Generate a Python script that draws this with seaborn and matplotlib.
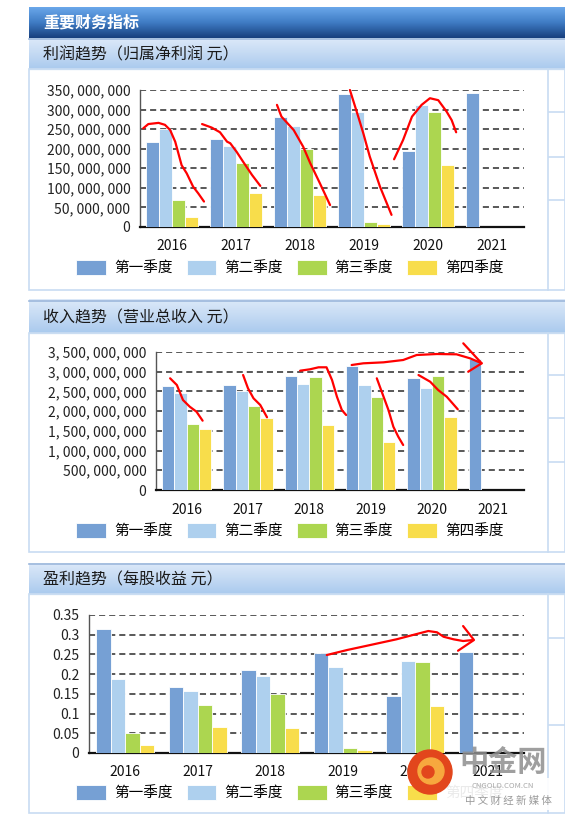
import numpy as np
import pandas as pd
import matplotlib
matplotlib.use('Agg')
import matplotlib.pyplot as plt
import seaborn as sns
from matplotlib.colors import LinearSegmentedColormap
from matplotlib.ticker import FuncFormatter, MultipleLocator
from matplotlib.patches import Rectangle, Circle

# ---- data ----
years = ['2016', '2017', '2018', '2019', '2020', '2021']
quarters = ['第一季度', '第二季度', '第三季度', '第四季度']
q_colors = ['#76A0D4', '#AED0EE', '#ACD650', '#F8DD4B']

# 归属净利润 (元)
profit_q1 = [217.6e6, 224e6, 281.6e6, 340e6, 193.7e6, 342e6]
profit_q2 = [250.9e6, 207e6, 259e6, 293.5e6, 312e6, np.nan]
profit_q3 = [69e6, 164e6, 200e6, 13e6, 293.5e6, np.nan]
profit_q4 = [26.5e6, 87e6, 83e6, 8.5e6, 158.7e6, np.nan]

# 营业总收入 (元)
revenue_q1 = [2.644e9, 2.661e9, 2.89e9, 3.153e9, 2.831e9, 3.322e9]
revenue_q2 = [2.449e9, 2.508e9, 2.686e9, 2.653e9, 2.585e9, np.nan]
revenue_q3 = [1.686e9, 2.119e9, 2.873e9, 2.364e9, 2.881e9, np.nan]
revenue_q4 = [1.542e9, 1.814e9, 1.653e9, 1.22e9, 1.839e9, np.nan]

# 每股收益 (元)
eps_q1 = [0.3155, 0.1667, 0.2107, 0.2546, 0.1447, 0.256]
eps_q2 = [0.187, 0.1565, 0.1946, 0.219, 0.234, np.nan]
eps_q3 = [0.0516, 0.121, 0.1506, 0.012, 0.230, np.nan]
eps_q4 = [0.021, 0.066, 0.0635, 0.0085, 0.120, np.nan]

# red hand-drawn marks on the reference (x in year slots, y in data units)
profit_marks = [
    ([-0.45, -0.37, -0.21, -0.11, -0.03, 0.05, 0.15, 0.23, 0.33, 0.41, 0.5],
     [252e6, 263e6, 266e6, 261e6, 248e6, 218e6, 158e6, 137e6, 103e6, 86e6, 65e6]),
    ([0.47, 0.62, 0.75, 0.86, 0.91, 1.01, 1.11, 1.25, 1.38],
     [263e6, 254e6, 242e6, 218e6, 214e6, 192e6, 167e6, 133e6, 105e6]),
    ([1.64, 1.71, 1.90, 2.05, 2.16, 2.31, 2.47],
     [312e6, 282e6, 248e6, 205e6, 163e6, 112e6, 56e6]),
    ([2.78, 2.91, 2.99, 3.09, 3.25, 3.43],
     [350e6, 282e6, 239e6, 180e6, 103e6, 31e6]),
    ([3.47, 3.61, 3.75, 3.90, 4.03, 4.16, 4.29, 4.37, 4.44],
     [173e6, 222e6, 282e6, 312e6, 329e6, 324e6, 295e6, 273e6, 242e6]),
]
revenue_marks = [
    ([-0.27, -0.16, -0.06, 0.05, 0.16, 0.26],
     [2.833e9, 2.663e9, 2.282e9, 2.113e9, 1.986e9, 1.758e9]),
    ([0.92, 1.0, 1.09, 1.2, 1.31],
     [2.916e9, 2.579e9, 2.325e9, 2.156e9, 1.844e9]),
    ([1.85, 2.01, 2.15, 2.28, 2.37, 2.45, 2.53, 2.6],
     [3.026e9, 3.061e9, 3.112e9, 3.112e9, 2.79e9, 2.366e9, 2.029e9, 1.902e9]),
    ([2.69, 2.88, 3.21, 3.53, 3.75, 4.08, 4.4, 4.62, 4.81],
     [3.17e9, 3.213e9, 3.238e9, 3.297e9, 3.424e9, 3.449e9, 3.441e9, 3.34e9, 3.213e9]),
    ([4.51, 4.81, 4.59], [3.72e9, 3.213e9, 3.0e9]),
    ([3.1, 3.21, 3.29, 3.37, 3.45, 3.53],
     [2.833e9, 2.366e9, 2.029e9, 1.605e9, 1.352e9, 1.141e9]),
    ([3.78, 3.97, 4.1, 4.24, 4.42],
     [2.916e9, 2.747e9, 2.536e9, 2.366e9, 2.047e9]),
]
eps_marks = [
    ([2.78, 3.06, 3.38, 3.74, 4.02, 4.18, 4.30, 4.39, 4.53, 4.66, 4.80],
     [0.2485, 0.2612, 0.2739, 0.2883, 0.3018, 0.3094, 0.3061, 0.2949, 0.2883, 0.284, 0.2866]),
    ([4.66, 4.81, 4.59], [0.322, 0.2866, 0.2594]),
]

plt.rcParams['font.family'] = ['Noto Sans CJK SC', 'DejaVu Sans']

W, H = 565, 817
fig = plt.figure(figsize=(W / 100, H / 100), dpi=100)

# background / frame layer in pixel units
bg = fig.add_axes([0, 0, 1, 1])
bg.set_xlim(0, W)
bg.set_ylim(H, 0)
bg.axis('off')

dark = LinearSegmentedColormap.from_list('dark', ['#6AA7EA', '#3F7CC4', '#173F7E'])
light = LinearSegmentedColormap.from_list('light', ['#DCE9F9', '#C4DAF3', '#AACAEE'])
grad = np.linspace(0, 1, 64).reshape(-1, 1)
bg.imshow(grad, cmap=dark, extent=(29, W, 38, 7), aspect='auto', zorder=1)
bg.text(43, 23, '重要财务指标', color='white', fontsize=11.5, fontweight='bold',
        va='center', zorder=3)

frame = '#C8DCF2'
panels = [
    (38, 69, 290, '利润趋势（归属净利润 元）', [112, 157, 200]),
    (300, 333, 552, '收入趋势（营业总收入 元）', [375, 418, 462]),
    (563, 594, 813, '盈利趋势（每股收益 元）', [638, 725]),
]
for top, body, bottom, title, side_lines in panels:
    bg.imshow(grad, cmap=light, extent=(29, W, body, top), aspect='auto', zorder=1)
    bg.plot([29, W], [top + 0.5, top + 0.5], color='#9DB8DC', lw=1.2, zorder=2)
    bg.plot([29, W], [body, body], color='#D9E7F7', lw=1, zorder=2)
    bg.text(43, (top + body) / 2 + 1, title, color='#1A1A1A', fontsize=11.5,
            va='center', zorder=3)
    bg.add_patch(Rectangle((29, body), W - 29, bottom - body, fill=False,
                           edgecolor=frame, lw=1.2, zorder=2))
    bg.plot([548, 548], [body, bottom], color=frame, lw=1.2, zorder=2)
    for yy in side_lines:
        bg.plot([549, W], [yy, yy], color=frame, lw=1.2, zorder=2)


def long_table(q1, q2, q3, q4):
    rows = []
    for q, vals in zip(quarters, [q1, q2, q3, q4]):
        for y, v in zip(years, vals):
            rows.append({'year': y, 'quarter': q, 'value': v})
    return pd.DataFrame(rows)


def draw_panel(rect, df, ymax, step, fmt, marks, legend_y):
    ax = fig.add_axes(rect)
    ax.set_facecolor('none')
    sns.barplot(data=df, x='year', y='value', hue='quarter', hue_order=quarters,
                palette=q_colors, saturation=1, width=0.8, edgecolor='white',
                linewidth=0.6, ax=ax, zorder=3)
    ax.set_xlim(-0.5, 5.5)
    ax.set_ylim(0, ymax)
    ax.yaxis.set_major_locator(MultipleLocator(step))
    ax.yaxis.set_major_formatter(FuncFormatter(fmt))
    ax.set_xlabel('')
    ax.set_ylabel('')
    ax.grid(axis='y', color='#2B2B2B', linestyle=(0, (4, 2.6)), linewidth=1.1, zorder=0)
    ax.set_axisbelow(True)
    for s in ['top', 'right']:
        ax.spines[s].set_visible(False)
    ax.spines['bottom'].set_linewidth(1.6)
    ax.spines['bottom'].set_color('#111111')
    ax.spines['left'].set_linewidth(1.0)
    ax.spines['left'].set_color('#555555')
    ax.tick_params(axis='y', length=0, pad=7, labelsize=10, labelcolor='#222222')
    ax.tick_params(axis='x', length=0, pad=9, labelsize=10, labelcolor='#111111')
    for xs, ys in marks:
        ax.plot(xs, ys, color='#FF0000', lw=1.6, clip_on=False,
                solid_capstyle='round', solid_joinstyle='round', zorder=6)
    sns.move_legend(ax, 'center', bbox_to_anchor=(0.513, legend_y),
                    bbox_transform=fig.transFigure, ncol=4, frameon=False,
                    title=None, fontsize=10.5, handlelength=2.05, handleheight=1.15,
                    handletextpad=0.55, columnspacing=0.95)
    return ax


def money(v, pos):
    return '0' if v == 0 else f'{int(round(v)):,}'.replace(',', ', ')


def eps_fmt(v, pos):
    return '0' if abs(v) < 1e-9 else f'{v:g}'


draw_panel([140 / W, 1 - 227 / H, 384 / W, 137 / H],
           long_table(profit_q1, profit_q2, profit_q3, profit_q4),
           350e6, 50e6, money, profit_marks, 1 - 268 / H)
draw_panel([156 / W, 1 - 490 / H, 368 / W, 138 / H],
           long_table(revenue_q1, revenue_q2, revenue_q3, revenue_q4),
           3.5e9, 0.5e9, money, revenue_marks, 1 - 531 / H)
draw_panel([89 / W, 1 - 753 / H, 435 / W, 138 / H],
           long_table(eps_q1, eps_q2, eps_q3, eps_q4),
           0.35, 0.05, eps_fmt, eps_marks, 1 - 793 / H)

# watermark overlay (中金网 logo)
ov = fig.add_axes([0, 0, 1, 1])
ov.set_xlim(0, W)
ov.set_ylim(H, 0)
ov.axis('off')
ov.add_patch(Rectangle((440, 778), 112, 32, color='white', alpha=0.92, lw=0))
ov.add_patch(Circle((430, 772), 22, color='#E2461C', zorder=5))
ov.add_patch(Circle((431, 771), 13, color='#F7A83E', zorder=6))
ov.add_patch(Circle((428, 772), 6, color='#E2461C', zorder=7))
ov.text(503, 762, '中金网', fontsize=21, fontweight='bold', color='#8E8E8E',
        ha='center', va='center', alpha=0.85, zorder=6)
ov.text(503, 786, 'CNGOLD.COM.CN', fontsize=5.5, color='#A8A8A8', ha='center',
        va='center', zorder=6)
ov.text(508, 801, '中 文 财 经 新 媒 体', fontsize=7.5, color='#9A9A9A', ha='center',
        va='center', zorder=6)

fig.savefig('out.png', dpi=100)
